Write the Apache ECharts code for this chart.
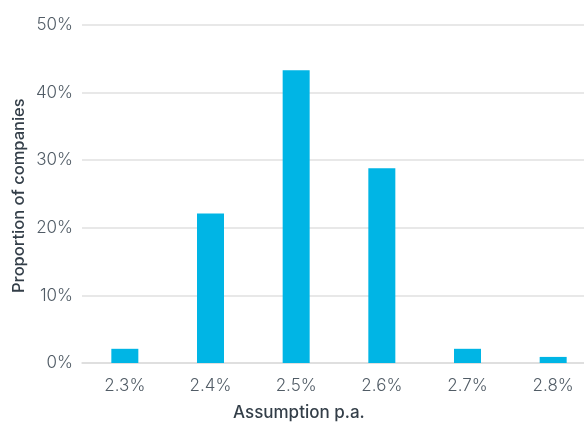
<!DOCTYPE html>
<html>
<head>
<meta charset="utf-8">
<script src="https://cdn.jsdelivr.net/npm/echarts@6/dist/echarts.min.js"></script>
<style>
  html, body { margin: 0; padding: 0; background: #fff; }
  #chart { width: 584px; height: 423px; }
</style>
</head>
<body>
<div id="chart"></div>
<script>
// Distribution of the assumption across companies
const categories = ['2.3%', '2.4%', '2.5%', '2.6%', '2.7%', '2.8%'];
const proportions = [2.1, 22.1, 43.3, 28.8, 2.1, 0.9];
const yTicks = [0, 10, 20, 30, 40, 50];

const chart = echarts.init(document.getElementById('chart'), null, { renderer: 'canvas' });

const tickFont = { fontFamily: 'Inter', fontWeight: 300, fontSize: 17, color: '#515c66' };

chart.setOption({
  animation: false,
  grid: { left: 82, width: 514, top: 25, height: 338, containLabel: false, outerBoundsMode: 'none' },
  xAxis: {
    type: 'category',
    data: categories,
    axisLine: { show: true, lineStyle: { color: '#dcdcdc', width: 1.5 } },
    axisTick: { show: false },
    axisLabel: Object.assign({ margin: 14 }, tickFont)
  },
  yAxis: {
    type: 'value',
    min: yTicks[0],
    max: yTicks[yTicks.length - 1],
    interval: 10,
    axisLine: { show: false },
    axisTick: { show: false },
    splitLine: { lineStyle: { color: '#e1e1e1', width: 1.5 } },
    axisLabel: Object.assign({ margin: 9, formatter: v => v + '%' }, tickFont)
  },
  graphic: [
    {
      type: 'text',
      left: 233, top: 404,
      style: { text: 'Assumption p.a.', fontFamily: 'Inter', fontWeight: 500, fontSize: 17, fill: '#333e48' }
    },
    {
      type: 'text',
      x: 11, y: 293,
      rotation: Math.PI / 2,
      style: { text: 'Proportion of companies', fontFamily: 'Inter', fontWeight: 500, fontSize: 16.5, fill: '#333e48' }
    }
  ],
  series: [{
    type: 'bar',
    data: proportions,
    barWidth: 27,
    itemStyle: { color: '#00b5e5' }
  }]
});
</script>
</body>
</html>
